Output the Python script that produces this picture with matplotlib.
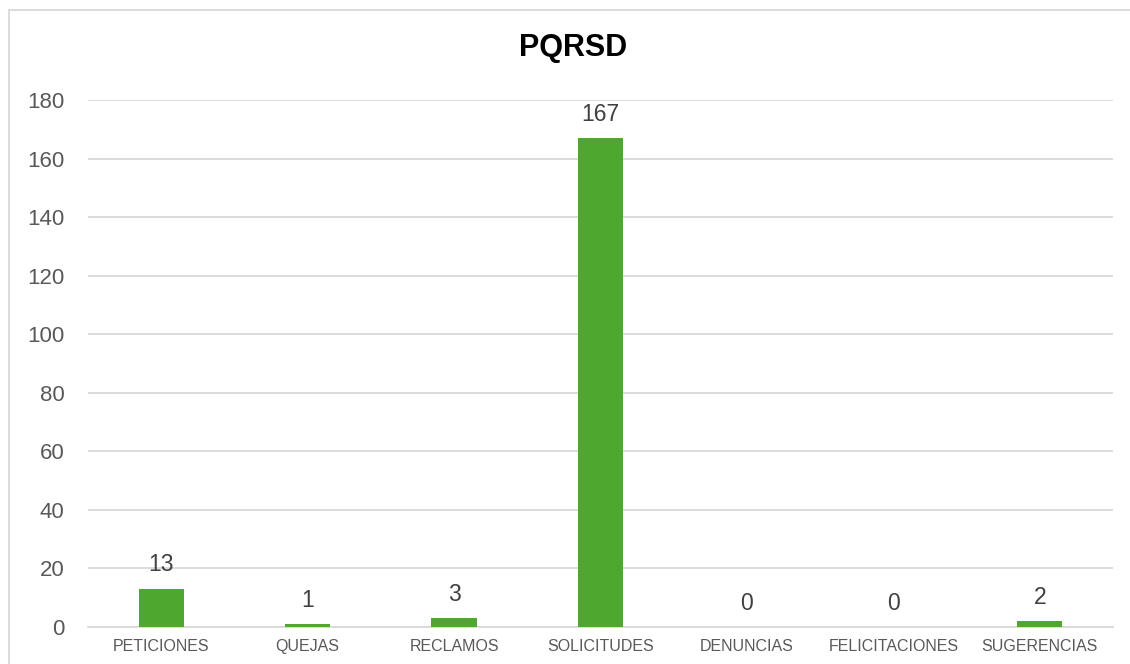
import matplotlib.pyplot as plt
from matplotlib.patches import Rectangle

plt.rcParams['font.family'] = ['Liberation Sans', 'DejaVu Sans']

categorias = ['PETICIONES', 'QUEJAS', 'RECLAMOS', 'SOLICITUDES',
              'DENUNCIAS', 'FELICITACIONES', 'SUGERENCIAS']
cantidades = [13, 1, 3, 167, 0, 0, 2]
yticks = [0, 20, 40, 60, 80, 100, 120, 140, 160, 180]

verde = '#4EA72E'
gris_linea = '#D9D9D9'

fig = plt.figure(figsize=(11.3, 6.64), dpi=100)
ax = fig.add_axes([88 / 1130, 37 / 664, (1113 - 88) / 1130, (627 - 100) / 664])

# marco del grafico
fig.patches.append(Rectangle((9 / 1130, -0.05), 1.05, 1 - 10 / 664 + 0.05,
                             transform=fig.transFigure, fill=False,
                             edgecolor=gris_linea, linewidth=1.3))

x = range(len(categorias))
bars = ax.bar(x, cantidades, width=0.31, color=verde, zorder=3)

for b, v in zip(bars, cantidades):
    ax.annotate(str(v), (b.get_x() + b.get_width() / 2, v),
                xytext=(0, 9), textcoords='offset points',
                ha='center', va='bottom', fontsize=16.5, color='#404040')

ax.set_xlim(-0.5, len(categorias) - 0.5)
ax.set_ylim(0, 180)
ax.set_yticks(yticks)
ax.set_xticks(list(x))
ax.set_xticklabels(categorias, fontsize=11.5, color='#595959', va='baseline')
ax.tick_params(axis='y', labelsize=16, labelcolor='#595959', length=0, pad=17)
ax.tick_params(axis='x', length=0, pad=17)
ax.grid(axis='y', color=gris_linea, linewidth=1.3, zorder=0)
for s in ['top', 'right', 'left']:
    ax.spines[s].set_visible(False)
ax.spines['bottom'].set_color(gris_linea)
ax.spines['bottom'].set_linewidth(1.3)

fig.text(0.507, 1 - 48 / 664, 'PQRSD', ha='center', va='center',
         fontsize=22, fontweight='bold', color='black')

fig.savefig('out.png', dpi=100)
